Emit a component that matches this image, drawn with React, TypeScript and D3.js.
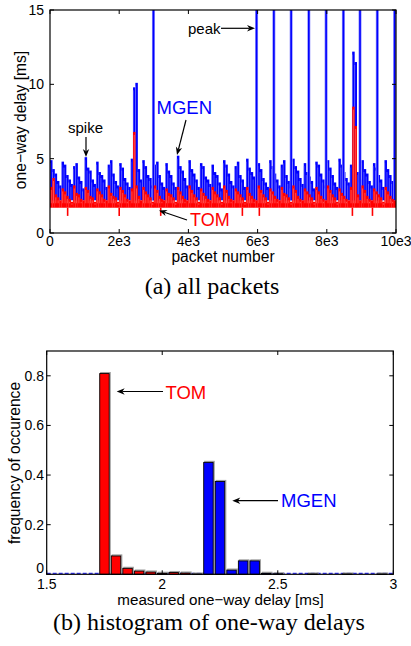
import React from "react";
import * as d3 from "d3";

// ---------- (a) all packets: per-block maximum delay (blocks of 10000/150 packets) ----------
const PACKETS = 10000;
const mgenDelay = [
  4.9, 4.3, 4.0, 3.5, 3.2, 4.8, 4.6, 3.9, 3.6, 3.3,
  4.5, 4.7, 3.8, 3.5, 3.0, 5.1, 4.4, 4.2, 3.6, 3.3,
  4.8, 4.1, 3.9, 3.6, 3.1, 4.6, 4.9, 4.0, 3.5, 3.2,
  4.7, 4.4, 3.7, 3.4, 3.1, 5.0, 9.8, 10.1, 4.3, 3.6,
  4.9, 4.5, 3.9, 3.7, 3.2, 4.6, 4.8, 3.9, 3.4, 3.1,
  4.7, 4.2, 3.9, 3.4, 3.1, 5.2, 4.5, 4.2, 3.7, 3.2,
  4.9, 4.3, 4.0, 3.6, 3.1, 4.7, 4.5, 3.8, 3.6, 3.3,
  4.6, 4.1, 3.9, 3.4, 3.0, 4.9, 4.6, 4.0, 3.5, 3.2,
  4.5, 4.8, 3.9, 3.6, 3.1, 5.0, 4.4, 4.1, 3.8, 3.3,
  4.7, 4.3, 3.7, 3.4, 3.1, 4.9, 4.5, 4.0, 3.6, 3.2,
  4.6, 4.9, 3.9, 3.5, 3.2, 5.0, 4.5, 4.2, 3.7, 3.3,
  4.7, 4.1, 3.8, 3.5, 3.0, 4.8, 4.6, 4.0, 3.6, 3.2,
  4.9, 4.4, 3.9, 3.4, 3.1, 5.0, 4.6, 4.1, 3.7, 3.4,
  4.6, 12.2, 11.5, 4.1, 3.6, 4.9, 4.3, 4.0, 3.5, 3.2,
  4.7, 4.4, 3.9, 3.6, 3.1, 4.9, 4.3, 3.9, 3.5, 3.0,
];
const tomDelay = [
  3.1, 3.7, 2.6, 2.4, 2.2, 3.0, 2.8, 2.5, 2.3, 2.1,
  3.2, 2.7, 2.6, 2.3, 2.2, 3.1, 2.9, 2.5, 2.4, 2.1,
  3.0, 2.8, 2.6, 2.3, 2.2, 3.2, 2.7, 2.5, 2.4, 2.1,
  3.1, 2.9, 2.6, 2.3, 2.2, 3.0, 6.8, 3.2, 2.5, 2.2,
  3.1, 2.8, 2.6, 2.4, 2.1, 3.2, 2.9, 2.5, 2.3, 2.2,
  3.0, 2.7, 2.6, 2.4, 2.1, 3.1, 2.8, 2.5, 2.3, 2.2,
  3.2, 2.9, 2.6, 2.4, 2.1, 3.0, 2.7, 2.5, 2.3, 2.2,
  3.1, 2.8, 2.6, 2.4, 2.1, 3.2, 2.9, 2.5, 2.3, 2.2,
  3.0, 2.8, 2.6, 2.4, 2.1, 3.1, 2.7, 2.5, 2.3, 2.2,
  3.2, 2.9, 2.6, 2.4, 2.1, 3.0, 2.8, 2.5, 2.3, 2.2,
  3.1, 2.7, 2.6, 2.4, 2.1, 3.2, 2.9, 2.5, 2.3, 2.2,
  3.0, 2.8, 2.6, 2.4, 2.1, 3.1, 2.8, 2.5, 2.3, 2.2,
  3.2, 2.9, 2.6, 2.4, 2.1, 3.0, 2.7, 2.5, 2.3, 2.2,
  3.1, 8.5, 7.2, 2.6, 2.2, 3.2, 2.9, 2.5, 2.3, 2.2,
  3.0, 2.8, 2.6, 2.4, 2.1, 3.1, 2.8, 2.5, 2.3, 2.2,
];
const mgenFloor = 2.2;
const tomFloor = 1.7;
const mgenPeakPackets = [2990, 5970, 6470, 6970, 7480, 7980, 8480, 8960, 9460, 9960];
const mgenPeakDelay = [20, 20, 20, 20, 20, 20, 20, 20, 20, 20];
const tomDipPackets = [510, 2000, 3200, 5560, 6050, 8740, 9320];
const tomDipDelay = [1.15, 1.15, 1.15, 1.15, 1.15, 1.15, 1.15];
const topXTicks = [0, 2000, 4000, 6000, 8000, 10000];
const topXTickLabels = ["0", "2e3", "4e3", "6e3", "8e3", "10e3"];
const topYTicks = [0, 5, 10, 15];

// ---------- (b) histogram ----------
const tomBins = [1.75, 1.8, 1.85, 1.9, 1.95, 2.0, 2.05, 2.1];
const tomFreq = [0.809, 0.074, 0.024, 0.013, 0.009, 0.004, 0.007, 0.005];
const mgenBins = [2.15, 2.2, 2.25, 2.3, 2.35, 2.4, 2.45, 2.5, 2.65, 2.8, 2.95];
const mgenFreq = [0.001, 0.451, 0.374, 0.017, 0.054, 0.054, 0.004, 0.002, 0.001, 0.001, 0.001];
const botXTicks = [1.5, 2, 2.5, 3];
const botXTickLabels = ["1.5", "2", "2.5", "3"];
const botYTicks = [0, 0.2, 0.4, 0.6, 0.8];
const botYTickLabels = ["0", "0.2", "0.4", "0.6", "0.8"];

const SANS = "'Liberation Sans', Arial, Helvetica, sans-serif";
const SERIF = "'Liberation Serif', 'Times New Roman', serif";
const BLUE = "#0000ff";
const RED = "#ff0000";

function Arrow({ x1, y1, x2, y2 }: { x1: number; y1: number; x2: number; y2: number }) {
  const ang = Math.atan2(y2 - y1, x2 - x1);
  const L = 8, W = 3.2;
  const bx = x2 - L * Math.cos(ang), by = y2 - L * Math.sin(ang);
  const px = -Math.sin(ang) * W, py = Math.cos(ang) * W;
  const mx = x2 - L * 0.7 * Math.cos(ang), my = y2 - L * 0.7 * Math.sin(ang);
  return (
    <g>
      <line x1={x1} y1={y1} x2={mx} y2={my} stroke="#000" strokeWidth={1.2} />
      <path d={`M${x2},${y2} L${bx + px},${by + py} L${mx},${my} L${bx - px},${by - py} Z`} fill="#000" />
    </g>
  );
}

export default function App() {
  // top chart
  const xT = d3.scaleLinear().domain([0, PACKETS]).range([50, 396]);
  const yT = d3.scaleLinear().domain([0, 15]).range([233, 10]);
  const blk = PACKETS / mgenDelay.length;
  // bottom chart
  const xB = d3.scaleLinear().domain([1.5, 3]).range([46.7, 393.3]);
  const yB = d3.scaleLinear().domain([0, 0.9]).range([574.3, 351]);
  const barW = xB(1.5 + 0.041) - xB(1.5);
  const tick = 4;

  const [tx0, tx1] = xT.range();
  const [ty0, ty1] = yT.range();
  const [bx0, bx1] = xB.range();
  const [by0, by1] = yB.range();

  const bar = (c: number, v: number, fill: string, key: string) => {
    const x = xB(c) - barW / 2;
    const y = yB(v);
    const h = Math.max(yB(0) - y, 0.3);
    return (
      <g key={key}>
        <rect x={x + 1} y={y - 1} width={barW} height={h + 1} fill="none" stroke="#a0a0a0" strokeWidth={1.2} />
        <rect x={x} y={y} width={barW} height={h} fill={fill} stroke="#000" strokeWidth={0.9} />
      </g>
    );
  };

  return (
    <svg width={411} height={646} style={{ position: "absolute", left: 0, top: 0, background: "#fff" }}>
      <defs>
        <clipPath id="clipTop">
          <rect x={tx0} y={ty1} width={tx1 - tx0} height={ty0 - ty1} />
        </clipPath>
      </defs>

      {/* ---------- (a) ---------- */}
      <g clipPath="url(#clipTop)">
        {mgenDelay.map((v, i) => (
          <rect key={"m" + i} x={xT(i * blk)} y={yT(v)} width={xT(blk) - xT(0) + 0.2}
            height={yT(mgenFloor) - yT(v)} fill={BLUE} />
        ))}
        {mgenDelay.map((v, i) => (
          <line key={"mg" + i} x1={xT(i * blk) + 0.2} x2={xT(i * blk) + 0.2} y1={yT(v) + 3} y2={yT(mgenFloor)}
            stroke="#9a9aff" strokeWidth={0.5} />
        ))}
        {mgenPeakPackets.map((p, i) => (
          <g key={"pk" + i}>
            <line x1={xT(p)} x2={xT(p)} y1={yT(mgenPeakDelay[i])} y2={yT(mgenFloor)} stroke="#8c8cff" strokeWidth={3} />
            <line x1={xT(p)} x2={xT(p)} y1={yT(mgenPeakDelay[i])} y2={yT(mgenFloor)} stroke={BLUE} strokeWidth={1.6} />
          </g>
        ))}
        {tomDelay.map((v, i) => (
          <rect key={"t" + i} x={xT(i * blk)} y={yT(v)} width={xT(blk) - xT(0) + 0.2}
            height={yT(tomFloor) - yT(v)} fill={RED} />
        ))}
        {tomDelay.map((v, i) => (
          <line key={"tg" + i} x1={xT(i * blk) + 1.2} x2={xT(i * blk) + 1.2} y1={yT(v) + 3} y2={yT(2.0)}
            stroke="#ff9a9a" strokeWidth={0.5} />
        ))}
        {tomDipPackets.map((p, i) => (
          <line key={"d" + i} x1={xT(p)} x2={xT(p)} y1={yT(tomFloor)} y2={yT(tomDipDelay[i])} stroke={RED} strokeWidth={1.6} />
        ))}
      </g>
      {/* box */}
      <rect x={tx0} y={ty1} width={tx1 - tx0} height={ty0 - ty1} fill="none" stroke="#000" strokeWidth={1.2} />
      {topXTicks.map((t, i) => (
        <g key={"tx" + i}>
          <line x1={xT(t)} x2={xT(t)} y1={ty0} y2={ty0 - tick} stroke="#000" />
          <line x1={xT(t)} x2={xT(t)} y1={ty1} y2={ty1 + tick} stroke="#000" />
          <text x={xT(t)} y={246} textAnchor="middle" fontFamily={SANS} fontSize={14}>{topXTickLabels[i]}</text>
        </g>
      ))}
      {topYTicks.map((t, i) => (
        <g key={"ty" + i}>
          <line x1={tx0} x2={tx0 + tick} y1={yT(t)} y2={yT(t)} stroke="#000" />
          <line x1={tx1} x2={tx1 - tick} y1={yT(t)} y2={yT(t)} stroke="#000" />
          <text x={44} y={yT(t) + 5} textAnchor="end" fontFamily={SANS} fontSize={14}>{t}</text>
        </g>
      ))}
      <text x={223} y={262} textAnchor="middle" fontFamily={SANS} fontSize={15.6}>packet number</text>
      <text transform="translate(26,120) rotate(-90)" textAnchor="middle" fontFamily={SANS} fontSize={15.6}>one−way delay [ms]</text>

      <text x={188} y={33.5} fontFamily={SANS} fontSize={15}>peak</text>
      <Arrow x1={221} y1={28.3} x2={255} y2={28.3} />
      <text x={85.5} y={133} textAnchor="middle" fontFamily={SANS} fontSize={15}>spike</text>
      <Arrow x1={86} y1={137} x2={86} y2={157} />
      <text x={156.5} y={114} fontFamily={SANS} fontSize={18.5} fill={BLUE}>MGEN</text>
      <Arrow x1={186} y1={120} x2={177} y2={155} />
      <text x={190} y={226} fontFamily={SANS} fontSize={18} fill={RED}>TOM</text>
      <Arrow x1={187} y1={220} x2={159} y2={210.5} />

      <text x={212} y={294} textAnchor="middle" fontFamily={SERIF} fontSize={24}>(a)  all packets</text>

      {/* ---------- (b) ---------- */}
      <line x1={bx0} x2={bx1} y1={by0 - 1} y2={by0 - 1} stroke={BLUE} strokeWidth={1} strokeDasharray="4,2" />
      {tomBins.map((c, i) => bar(c, tomFreq[i], RED, "tb" + i))}
      {mgenBins.map((c, i) => bar(c, mgenFreq[i], BLUE, "mb" + i))}
      <rect x={bx0} y={by1} width={bx1 - bx0} height={by0 - by1} fill="none" stroke="#000" strokeWidth={1.2} />
      {botXTicks.map((t, i) => (
        <g key={"bx" + i}>
          <line x1={xB(t)} x2={xB(t)} y1={by0} y2={by0 - tick} stroke="#000" />
          <line x1={xB(t)} x2={xB(t)} y1={by1} y2={by1 + tick} stroke="#000" />
          <text x={xB(t)} y={588.5} textAnchor="middle" fontFamily={SANS} fontSize={14}>{botXTickLabels[i]}</text>
        </g>
      ))}
      {botYTicks.map((t, i) => (
        <g key={"by" + i}>
          <line x1={bx0} x2={bx0 + tick} y1={yB(t)} y2={yB(t)} stroke="#000" />
          <line x1={bx1} x2={bx1 - tick} y1={yB(t)} y2={yB(t)} stroke="#000" />
          <text x={44} y={yB(t) + (t === 0 ? -1.5 : 5)} textAnchor="end" fontFamily={SANS} fontSize={14}>{botYTickLabels[i]}</text>
        </g>
      ))}
      <text x={220.5} y={605} textAnchor="middle" fontFamily={SANS} fontSize={15.2}>measured one−way delay [ms]</text>
      <text transform="translate(20,463) rotate(-90)" textAnchor="middle" fontFamily={SANS} fontSize={15.6}>frequency of occurence</text>

      <text x={165.5} y={399} fontFamily={SANS} fontSize={18.5} fill={RED}>TOM</text>
      <Arrow x1={163} y1={391.5} x2={116.7} y2={391.5} />
      <text x={281} y={507} fontFamily={SANS} fontSize={18.5} fill={BLUE}>MGEN</text>
      <Arrow x1={278} y1={500.7} x2={232.3} y2={500.7} />

      <text x={209} y={630} textAnchor="middle" fontFamily={SERIF} fontSize={24}>(b)  histogram of one-way delays</text>
    </svg>
  );
}
